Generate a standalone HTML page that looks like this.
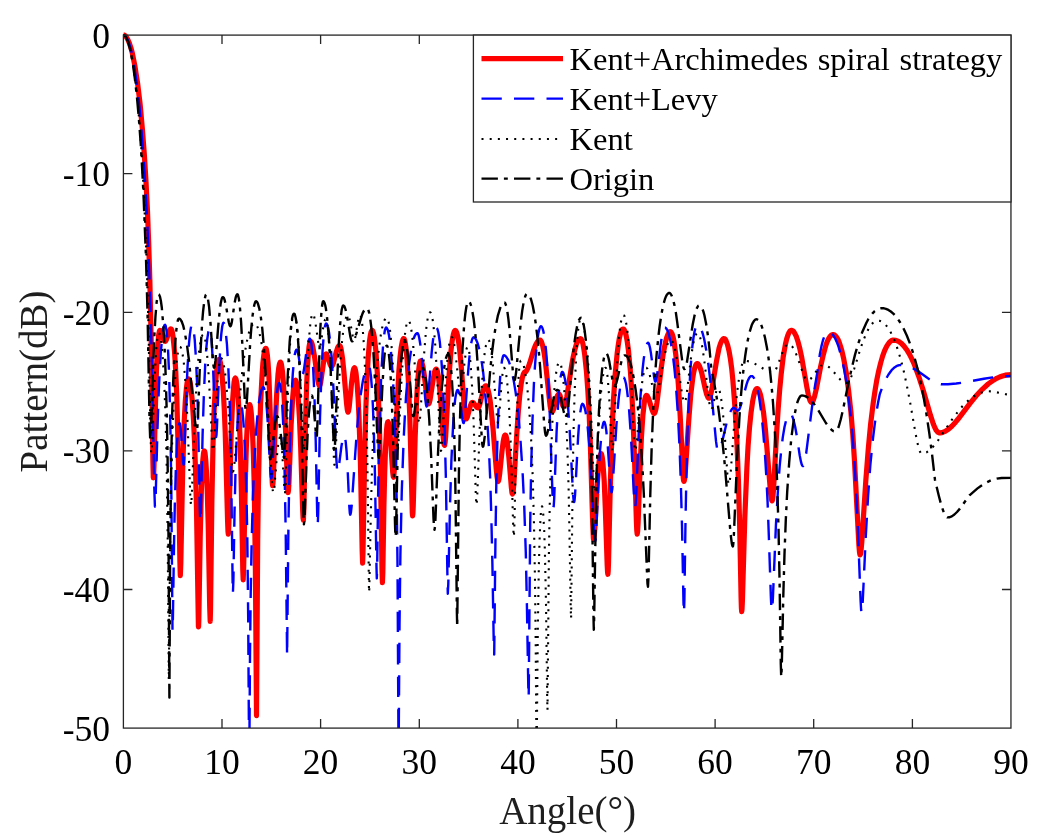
<!DOCTYPE html>
<html><head><meta charset="utf-8"><style>
html,body{margin:0;padding:0;background:#fff;width:1050px;height:840px;overflow:hidden}
svg{display:block}
text{font-family:"Liberation Serif",serif;fill:#000}
.tx{fill:#1e1e1e}
svg{will-change:transform}
</style></head><body>
<svg width="1050" height="840" viewBox="0 0 1050 840">

<rect width="1050" height="840" fill="#fff"/>

<g fill="none" stroke-linejoin="round">
<path d="M123.4 35.1L124.2 35.2 125.0 35.6 126.5 37.2 127.9 39.7 129.4 43.2 130.9 47.7 132.3 53.0 135.0 66.6 137.6 83.4 140.1 104.1 142.3 128.2 144.3 154.3 146.0 181.7 147.5 211.7 148.7 244.1 149.8 278.7 151.4 350.9 152.9 461.1 153.3 477.8 153.7 474.1 154.0 465.6 155.5 403.4 156.4 372.0 157.5 349.0 158.7 334.8 159.5 330.8 159.9 330.3 160.4 330.5 161.5 332.5 163.9 340.1 164.6 341.2 165.2 341.4 165.8 340.8 166.5 339.4 168.8 332.4 169.7 330.0 170.3 329.2 170.9 328.9 171.3 329.2 171.7 330.0 172.4 332.6 173.1 336.9 174.5 351.2 175.7 370.6 176.8 396.4 178.3 456.4 179.9 561.8 180.3 575.6 180.8 563.4 182.7 469.1 184.2 421.6 185.3 401.3 186.5 387.3 187.1 382.9 187.7 380.2 188.3 378.9 188.6 378.8 189.0 379.2 189.8 381.2 190.6 385.1 191.3 391.0 192.1 399.1 193.5 419.6 194.7 445.5 195.7 475.8 196.5 508.7 198.4 626.1 198.5 626.9 198.6 626.1 198.8 620.3 200.2 536.7 201.4 489.5 202.1 472.2 202.8 460.5 203.5 453.6 203.9 451.6 204.3 450.9 204.7 451.5 205.1 453.4 205.8 461.1 206.5 472.5 207.2 489.2 208.2 524.6 209.7 606.9 210.2 621.4 210.5 609.9 211.9 499.7 213.1 440.6 214.1 411.5 215.2 389.3 216.4 373.1 217.7 363.0 218.4 360.3 218.7 359.7 219.1 359.4 219.5 359.7 219.8 360.4 220.5 363.0 221.9 373.2 223.3 391.1 224.3 409.8 225.2 431.8 227.6 521.4 228.0 531.5 228.3 534.1 228.6 530.9 228.9 522.3 231.0 438.4 232.6 400.6 233.7 386.2 234.1 382.1 234.7 379.1 235.0 378.4 235.3 378.1 235.9 378.9 236.5 381.4 237.1 385.5 238.0 395.2 238.8 407.7 240.3 444.3 241.4 492.1 242.8 570.4 243.2 579.8 243.7 566.2 245.3 481.6 246.5 441.7 247.3 424.6 248.2 412.1 249.0 405.7 249.5 404.5 249.7 404.5 250.0 405.0 250.6 407.5 251.2 412.4 252.4 429.8 253.4 454.4 254.3 488.4 255.4 569.0 256.5 715.6 257.7 539.4 258.4 487.2 259.3 443.7 260.6 403.2 262.1 374.4 262.9 363.0 263.8 355.2 264.7 350.4 265.2 348.9 265.7 348.4 266.1 348.6 266.5 349.7 267.3 354.7 268.1 363.6 268.9 376.9 270.1 409.3 272.0 476.5 272.3 483.1 272.6 485.6 273.0 483.0 273.4 476.1 275.4 421.7 276.7 393.9 278.0 374.4 278.7 368.3 279.4 364.3 279.9 362.7 280.2 362.3 280.5 362.2 281.0 363.0 281.5 364.8 282.5 371.9 283.5 383.9 285.1 417.3 287.4 484.0 287.8 490.8 288.1 492.5 288.5 490.2 288.9 483.8 291.1 425.5 292.7 397.4 293.6 387.7 294.6 381.7 295.0 380.6 295.5 380.2 296.0 381.0 296.5 382.7 297.3 387.7 298.0 394.4 299.4 417.3 300.7 448.2 302.7 510.8 303.1 518.3 303.4 520.2 303.9 508.0 305.5 422.8 306.6 386.4 307.4 368.3 308.2 355.4 309.0 347.0 309.9 342.1 310.2 341.5 310.5 341.4 310.9 341.6 311.4 342.3 312.2 344.3 312.9 347.4 314.5 356.5 317.8 380.2 318.7 384.3 319.2 385.5 319.5 385.8 319.8 385.5 320.1 384.9 320.7 382.4 323.7 361.2 324.5 357.1 325.3 354.6 325.7 354.0 326.1 353.9 326.5 354.1 326.9 354.8 327.8 357.0 330.2 364.8 331.0 366.2 331.3 366.3 331.7 366.3 332.5 365.3 333.4 363.0 336.3 351.7 337.6 347.8 338.3 346.5 339.0 345.7 339.7 345.6 340.2 346.2 340.8 347.8 341.3 350.3 342.6 359.0 343.9 371.7 346.6 404.0 347.3 409.6 347.7 411.5 348.0 412.1 348.2 411.9 348.5 411.1 349.2 407.0 351.6 382.4 352.8 373.0 353.4 369.9 353.9 368.4 354.5 367.7 355.0 368.3 355.5 370.3 356.0 373.1 357.1 383.5 358.1 398.4 359.0 417.4 360.4 461.7 362.2 551.2 362.6 563.2 363.0 552.2 364.9 443.3 365.8 410.1 366.8 383.3 368.1 358.9 369.5 341.3 370.3 335.5 371.1 331.9 371.9 330.4 372.3 330.4 372.8 331.0 373.6 333.4 374.4 337.6 376.0 352.1 377.3 372.9 378.5 399.1 379.5 429.6 380.3 462.7 382.0 569.8 382.4 582.6 382.8 573.2 383.9 506.6 384.7 472.5 385.6 446.5 386.6 429.4 387.1 424.6 387.7 422.0 388.0 421.8 388.4 422.5 389.1 425.6 390.4 438.0 392.7 472.2 393.3 476.6 393.6 477.2 393.8 476.7 394.6 465.9 397.1 404.8 398.9 371.0 400.0 357.6 401.1 348.0 402.3 341.5 402.9 339.7 403.5 338.7 403.9 338.7 404.2 338.9 404.8 340.4 405.9 347.2 407.1 359.8 408.2 377.3 409.8 416.3 412.1 505.2 412.3 513.1 412.6 516.0 412.9 513.7 413.2 507.1 415.2 436.0 416.7 398.1 417.6 382.8 418.5 371.9 419.4 364.3 419.9 362.1 420.4 361.0 420.7 360.8 421.0 360.9 421.7 362.0 423.0 367.0 424.3 375.4 427.0 398.1 427.8 402.3 428.5 403.8 428.9 403.6 429.3 402.8 430.1 399.7 433.2 379.1 434.5 372.2 435.3 370.0 436.0 369.2 436.4 369.2 436.7 369.5 437.3 371.0 438.4 376.5 439.5 385.7 440.7 401.2 443.2 437.1 443.9 443.5 444.3 445.1 444.6 445.3 445.1 442.8 445.7 435.9 448.8 378.8 450.9 351.7 452.1 341.4 453.4 334.2 454.0 332.1 454.7 330.7 455.2 330.3 455.9 330.8 456.9 333.1 457.8 336.9 458.8 343.0 459.7 350.2 461.4 368.3 464.4 409.3 465.1 415.7 465.7 418.6 466.0 419.0 466.4 418.8 467.2 417.5 470.4 405.6 471.2 403.6 471.9 402.6 472.7 402.4 473.6 403.0 476.3 406.7 477.1 407.6 478.0 407.9 478.6 407.4 479.2 406.2 479.9 404.0 482.7 392.3 483.9 388.1 484.7 386.5 485.4 385.8 486.1 385.9 486.8 386.7 487.9 389.4 489.0 394.0 490.1 400.4 491.1 408.9 493.0 428.2 496.3 469.7 497.0 476.4 497.6 480.1 497.9 481.2 498.2 481.4 498.6 480.6 499.0 478.8 499.8 472.8 501.9 451.9 503.1 442.3 503.8 438.4 504.4 436.2 504.9 435.1 505.2 435.0 505.5 435.1 506.0 436.0 506.6 438.3 507.7 445.4 508.9 457.5 511.3 486.9 511.9 492.3 512.2 493.5 512.5 493.9 512.8 493.3 513.2 490.9 513.9 483.0 516.8 433.7 518.4 410.9 519.7 395.7 521.2 383.9 522.3 377.9 523.4 374.0 524.4 372.2 525.7 371.7 526.3 371.0 527.8 368.3 529.5 363.7 533.5 350.5 535.5 345.2 536.7 342.9 537.8 341.3 538.9 340.3 540.0 340.0 540.6 340.4 541.3 341.4 542.7 345.7 544.1 352.7 545.5 362.6 550.1 405.7 551.0 410.6 551.5 411.9 551.9 412.1 552.6 411.5 553.3 410.0 556.7 397.5 557.6 395.3 558.5 394.2 558.9 394.1 559.3 394.3 560.0 395.5 562.2 403.9 563.0 406.0 563.4 406.5 563.9 406.5 564.8 405.0 565.7 402.0 566.8 396.7 571.8 364.6 573.3 356.6 574.7 350.3 576.3 344.5 577.9 340.8 578.7 339.6 579.6 338.9 580.5 338.6 581.1 339.0 582.1 341.0 583.0 344.1 583.8 348.7 584.7 354.7 586.4 370.9 587.9 391.3 589.1 413.2 590.2 438.9 592.7 523.7 593.4 538.7 593.6 539.6 593.9 538.9 594.6 532.1 597.1 487.2 598.5 467.0 599.2 460.8 600.0 456.0 600.8 453.8 601.2 453.7 601.5 454.1 602.2 457.0 602.9 462.6 604.2 480.9 605.3 508.2 607.2 565.2 607.6 572.5 607.9 574.3 608.2 571.1 608.5 562.6 610.1 493.4 611.1 458.2 612.2 425.9 613.5 399.4 615.2 373.9 617.2 353.1 618.3 344.8 619.3 338.4 620.4 333.8 621.6 330.5 622.2 329.5 622.8 329.0 623.4 329.0 624.0 329.4 625.2 331.8 626.2 335.9 627.3 341.9 628.4 350.1 630.4 371.2 631.9 394.0 633.2 422.8 634.5 458.2 636.4 521.7 636.8 530.7 637.2 534.1 637.6 531.6 638.1 522.8 640.2 465.6 641.4 437.6 642.9 415.2 644.4 401.7 645.0 398.5 645.7 396.2 646.3 395.5 647.2 395.8 648.0 397.2 648.9 399.3 651.9 409.3 653.0 412.2 653.7 413.2 654.3 413.5 654.6 413.2 655.1 412.2 656.0 408.6 657.0 402.4 661.2 368.4 663.3 353.2 665.5 342.0 666.6 338.0 667.8 334.7 668.9 332.6 669.5 332.0 670.2 331.7 670.7 331.8 671.2 332.2 672.1 333.8 673.1 337.1 674.1 341.9 675.9 355.7 677.3 370.4 678.7 389.6 680.2 416.0 682.8 470.0 683.3 478.3 683.6 480.6 683.9 481.4 684.2 480.9 684.6 479.0 685.4 471.1 688.8 419.5 690.7 395.3 692.7 378.4 693.7 372.4 694.8 367.7 695.8 365.0 696.3 364.2 696.9 363.6 697.4 363.6 698.1 364.0 699.4 366.0 700.6 369.1 701.8 373.2 705.4 389.6 706.7 394.5 708.0 397.6 708.7 398.2 709.3 398.1 709.8 397.4 710.4 395.9 711.6 390.6 716.6 360.5 719.1 348.1 720.5 343.5 721.9 340.4 722.6 339.4 723.3 338.8 724.0 338.6 724.6 338.8 725.4 339.5 726.0 340.6 727.5 344.6 729.0 350.8 730.4 358.9 731.7 368.6 732.9 380.8 735.2 410.3 736.9 441.6 738.4 480.1 739.6 523.0 741.1 598.1 741.4 608.0 741.7 611.7 742.0 609.5 742.4 600.8 744.8 517.9 746.9 467.7 748.1 445.8 749.5 427.6 751.0 412.9 752.7 401.0 753.8 395.5 754.8 391.7 755.9 389.4 756.4 388.8 757.0 388.5 757.6 388.7 758.2 389.2 759.3 391.2 760.5 394.9 761.5 399.7 763.5 412.4 765.4 429.3 770.6 493.4 771.4 499.1 771.8 500.5 772.0 500.8 772.2 500.7 772.5 499.8 772.9 497.0 773.6 488.3 776.5 434.9 778.2 408.5 779.7 389.5 781.2 374.0 783.2 357.0 785.5 343.9 786.7 338.9 787.9 335.1 789.1 332.4 790.2 330.8 791.1 330.4 792.1 330.4 793.1 331.0 794.1 332.2 796.1 335.9 798.0 341.6 799.8 348.5 801.7 357.4 806.8 386.9 808.3 394.6 809.9 400.3 810.6 401.7 811.3 402.4 812.0 402.2 812.8 401.1 813.7 399.1 814.6 396.2 816.3 389.0 820.8 365.8 823.3 354.7 825.9 345.1 827.3 341.3 828.6 338.6 830.1 336.3 831.6 334.9 833.0 334.5 834.6 335.0 836.2 336.6 837.7 338.9 839.2 342.2 840.6 346.5 842.1 351.8 843.5 357.8 846.2 372.4 848.6 390.5 850.9 412.0 852.8 434.6 854.5 461.1 858.9 545.0 859.5 552.2 859.8 554.2 860.1 554.9 860.5 554.1 860.9 552.1 861.8 542.0 865.8 480.9 868.3 448.8 870.6 424.2 873.3 402.3 875.0 390.9 876.7 380.6 878.6 371.3 880.6 363.1 882.6 356.1 884.7 350.4 886.9 345.9 889.1 342.7 891.0 340.9 892.0 340.3 893.1 340.1 895.9 340.3 898.6 341.4 901.4 343.4 904.0 346.1 906.7 349.7 909.4 354.1 911.7 358.7 914.0 363.7 918.6 376.0 922.9 389.3 930.5 415.4 933.3 424.0 934.9 427.8 936.3 430.4 937.7 432.1 939.0 432.8 940.2 432.9 941.9 432.6 945.1 431.4 948.3 429.3 951.8 426.2 954.6 423.2 957.9 419.3 970.4 402.9 976.2 395.8 982.3 389.3 988.1 384.0 993.9 379.9 996.7 378.3 999.6 377.0 1002.5 376.0 1005.3 375.2 1008.2 374.8 1010.9 374.7" stroke="#ff0000" stroke-width="5.2"/>
<path d="M123.4 35.1L124.2 35.3 124.9 35.6 126.3 37.2 127.7 39.9 129.1 43.4 130.5 48.0 131.9 53.7 134.5 67.9 137.1 86.1 139.5 107.5 141.7 132.8 143.8 161.0 145.6 190.0 147.3 222.6 148.7 257.1 150.1 296.1 152.0 365.7 154.3 488.1 154.9 506.2 155.0 506.5 155.1 506.1 155.4 503.8 155.7 495.6 157.5 428.4 158.7 392.8 159.8 368.9 160.9 351.3 162.5 334.5 163.3 328.9 164.2 325.7 164.7 324.9 165.1 324.8 165.5 325.4 165.8 326.4 166.5 330.6 167.2 337.6 168.2 353.1 169.1 374.0 169.8 400.4 170.5 432.7 171.4 497.6 172.5 631.1 172.9 618.5 174.0 545.2 174.8 505.3 175.8 470.9 176.9 444.6 177.6 434.6 178.4 427.2 179.2 423.6 179.6 423.2 179.9 423.6 180.4 426.1 181.0 432.0 183.0 461.6 183.4 464.4 183.6 464.8 183.8 464.0 184.4 451.7 186.2 398.1 187.5 367.5 189.0 343.6 189.8 335.2 190.6 329.4 191.2 326.2 191.6 325.2 192.0 324.8 192.4 325.0 192.7 325.5 193.4 328.3 194.7 339.3 196.0 359.2 197.0 382.3 197.9 411.2 199.8 509.3 200.3 521.6 200.6 518.2 200.9 509.1 202.6 434.6 203.9 393.5 205.4 360.5 206.3 348.1 207.2 339.1 208.4 331.6 209.0 329.7 209.3 329.2 209.7 328.9 210.2 329.7 210.6 331.3 211.5 338.6 212.9 362.5 215.3 426.8 215.7 434.3 216.1 437.0 216.5 434.7 216.9 428.2 219.1 371.6 220.5 343.6 221.3 333.8 222.2 326.5 223.0 323.3 223.4 322.7 223.9 323.0 224.7 325.1 225.5 329.3 226.9 343.8 228.2 364.7 229.4 393.8 230.3 425.0 231.1 463.7 232.6 581.7 232.9 593.7 233.4 580.2 234.5 513.4 235.4 475.1 236.5 442.8 237.7 420.3 238.4 411.7 239.2 405.5 239.9 402.8 240.3 402.4 240.7 402.7 241.5 405.5 242.3 410.6 243.1 418.5 243.9 429.4 244.9 448.3 245.8 472.0 246.6 501.0 247.3 536.1 248.2 619.3 248.9 728.1M249.5 728.1L250.0 655.2 250.7 594.6 251.6 544.2 252.7 502.8 254.2 464.4 255.8 434.9 257.8 411.7 258.9 402.7 260.0 396.0 261.6 389.7 262.4 388.0 263.2 387.2 263.5 387.2 263.8 387.4 264.3 388.6 265.4 394.5 266.4 403.8 267.4 417.0 270.3 470.9 270.8 476.6 271.3 478.6 271.8 476.4 272.3 470.3 275.1 416.7 276.0 403.6 276.9 392.9 278.0 385.7 278.6 383.7 279.2 383.0 279.7 383.6 280.2 385.3 281.2 392.4 282.2 404.9 283.2 424.1 284.0 449.0 284.7 475.6 285.7 532.4 287.1 656.0 288.4 528.4 289.7 453.3 290.6 421.5 291.6 394.1 292.8 373.6 294.1 359.4 294.8 354.5 295.6 351.1 296.3 349.8 296.7 349.8 297.1 350.2 297.8 352.0 298.4 355.1 301.3 372.2 302.0 374.3 302.3 374.6 302.6 374.6 303.2 373.3 303.9 370.1 306.8 348.8 308.3 341.3 309.2 339.1 309.6 338.7 310.0 338.7 310.7 340.4 311.3 343.7 312.2 351.8 312.9 362.7 314.4 394.9 315.7 440.3 317.2 514.5 317.7 525.7 318.2 513.2 320.0 417.7 321.5 371.8 322.6 350.3 323.7 335.9 324.9 326.7 325.5 324.3 325.8 323.7 326.2 323.4 326.8 323.9 327.5 325.4 328.9 331.7 330.3 342.6 331.6 357.5 333.5 389.0 336.2 456.3 337.1 470.6 337.4 471.7 337.8 471.3 338.7 467.7 341.4 446.5 342.6 439.5 343.2 437.3 343.8 436.0 344.4 435.7 344.8 436.4 345.7 441.6 346.6 451.7 347.6 468.7 349.3 506.3 349.8 512.9 350.2 514.7 350.5 514.3 350.9 512.5 351.7 505.5 356.7 432.8 358.6 412.2 360.6 395.3 362.9 380.8 364.1 375.6 365.4 371.3 366.9 368.0 367.6 367.1 368.4 366.5 369.0 366.4 369.3 366.6 370.0 369.1 371.0 376.6 372.0 389.3 372.9 406.3 373.7 427.1 374.9 472.4 376.5 567.3 376.8 578.4 377.1 569.7 378.2 490.0 379.1 441.3 380.2 401.0 381.5 369.3 383.1 344.9 383.9 336.3 384.8 330.7 385.3 328.9 385.8 327.8 386.2 327.5 386.8 327.9 387.9 330.3 389.0 335.2 390.1 342.6 391.0 352.0 392.9 378.1 394.5 412.6 395.8 455.4 396.8 506.6 397.5 563.7 398.4 728.1M398.8 728.1L399.5 626.0 400.4 554.3 401.8 490.3 403.6 440.4 404.8 416.9 406.0 397.0 407.5 378.9 409.1 363.9 410.8 352.0 412.6 342.4 413.6 338.8 414.6 336.1 415.6 334.3 416.6 333.3 417.2 333.1 417.6 333.2 418.5 334.8 419.3 338.2 420.3 344.3 422.1 360.9 425.2 398.5 426.0 404.7 426.4 406.2 426.6 406.5 426.9 406.2 427.2 405.0 427.9 399.8 431.7 352.2 433.0 340.2 434.1 332.7 434.8 329.8 435.5 328.1 436.2 327.5 436.6 327.7 437.0 328.2 437.7 329.9 438.4 332.7 439.8 341.7 441.1 356.0 442.4 375.1 443.5 397.3 444.5 424.1 445.9 479.3 447.5 581.1 447.8 593.7 448.3 583.9 450.0 506.3 451.4 460.2 453.2 423.0 454.2 409.5 455.1 399.9 455.9 394.6 456.8 391.1 457.2 390.3 457.7 389.9 458.1 390.2 458.5 391.0 459.2 393.8 459.9 398.0 462.5 419.7 463.2 422.7 463.5 423.1 463.8 423.0 464.4 420.3 465.1 413.6 467.8 376.0 469.1 360.5 470.2 349.7 471.4 342.3 472.1 339.5 472.9 337.7 473.6 337.3 474.7 337.7 475.9 339.2 476.9 341.4 478.0 344.5 479.1 348.5 480.6 355.5 482.0 363.9 483.3 373.5 484.5 385.2 486.8 412.4 488.8 446.0 490.3 481.2 491.4 519.9 492.4 564.2 493.7 640.2 494.2 654.6 495.4 543.4 496.3 484.2 497.6 432.2 499.2 392.0 500.1 378.1 501.0 368.0 502.0 360.4 503.0 356.3 503.5 355.4 504.2 355.3 505.3 355.9 506.4 357.0 508.3 360.2 510.2 365.3 512.0 372.4 513.8 381.1 515.6 392.1 517.2 404.3 518.7 418.0 520.0 433.5 522.5 470.2 524.3 507.9 525.8 552.8 526.9 605.0 528.3 687.6 528.7 697.6 530.2 524.4 531.1 471.0 532.3 425.3 533.9 383.9 534.9 367.0 535.9 353.9 537.1 342.0 538.3 333.8 539.5 328.6 540.1 327.1 540.7 326.2 541.1 326.2 541.6 326.5 542.5 328.2 543.4 331.4 544.2 335.6 545.9 349.1 547.4 367.1 548.5 386.6 549.6 409.6 552.5 494.4 552.9 503.3 553.3 507.5 553.4 507.7 553.5 507.6 553.7 506.3 554.2 498.5 556.6 431.7 558.4 398.3 559.4 386.1 560.5 377.3 561.6 372.7 562.0 372.0 562.6 372.0 563.3 373.0 563.9 374.6 565.2 380.3 566.5 389.4 567.7 401.1 569.8 432.3 572.9 491.8 573.5 499.4 574.0 502.1 574.2 502.1 574.5 500.8 575.1 494.3 578.1 437.1 579.1 423.4 580.2 412.6 581.3 406.2 581.8 404.6 582.4 403.8 583.2 404.2 583.9 405.6 584.7 408.0 585.5 411.5 586.5 417.4 587.5 425.2 589.4 445.9 591.1 473.4 594.0 529.3 594.7 538.3 595.0 540.3 595.3 541.0 595.8 538.2 596.3 530.6 598.5 477.9 600.0 451.1 601.6 432.7 602.4 427.0 603.3 423.1 603.7 422.2 604.1 421.8 604.5 422.0 604.8 422.7 605.5 425.4 606.3 430.6 607.8 446.6 610.5 485.8 611.2 491.5 611.5 492.4 611.7 492.2 612.2 489.6 612.8 483.3 616.4 425.1 617.6 409.7 618.9 396.7 620.3 386.0 621.8 379.7 622.5 378.2 623.3 377.5 623.7 377.5 624.1 377.9 624.8 379.2 626.0 383.7 627.0 390.2 628.1 399.3 629.1 410.0 631.1 439.2 634.0 496.2 634.7 504.4 635.0 506.0 635.2 506.3 635.3 506.2 635.7 503.3 636.2 495.1 638.8 430.8 640.5 396.4 642.6 369.2 643.7 359.3 644.9 351.4 646.0 346.4 647.1 343.6 647.6 342.9 648.1 342.8 648.6 343.2 649.1 344.3 650.0 347.7 650.9 352.9 654.2 377.8 654.9 381.0 655.3 381.6 655.6 381.5 656.3 379.7 657.1 375.2 660.6 345.1 661.6 338.0 662.5 332.7 663.5 329.2 664.0 328.2 664.5 327.6 665.2 327.6 665.9 328.0 667.3 330.0 668.8 334.2 670.3 340.1 671.7 347.6 673.1 357.2 674.4 368.3 675.6 380.8 677.7 411.1 679.4 444.1 680.8 481.8 682.0 526.3 683.5 602.9 684.0 613.1 684.4 599.2 685.5 521.3 686.4 474.1 687.5 433.6 688.8 400.0 690.4 369.5 692.4 346.2 693.5 337.5 694.6 331.2 695.8 326.9 696.4 325.6 697.0 324.9 697.3 324.8 698.0 324.9 699.3 326.0 700.5 327.8 701.7 330.6 702.9 334.2 704.1 338.8 706.3 350.5 708.3 363.9 710.3 380.7 716.0 441.2 717.0 448.1 717.5 450.0 717.9 450.8 718.6 450.7 719.3 449.9 720.1 448.3 721.0 445.8 722.5 440.4 727.0 421.4 728.5 416.3 729.9 412.6 731.6 409.5 732.5 408.5 733.2 408.0 733.9 407.9 734.6 408.2 736.7 410.2 737.6 410.7 738.5 410.4 739.4 409.2 740.2 407.2 741.3 403.9 746.5 384.6 747.8 380.7 749.1 378.1 750.1 376.8 751.1 376.1 752.1 376.1 753.0 376.7 754.0 378.1 754.8 379.9 756.7 385.7 757.9 390.8 759.1 397.2 761.3 412.7 763.2 432.0 765.0 454.9 766.4 477.8 767.6 502.2 768.8 535.0 770.9 597.9 771.4 607.6 771.8 610.3 772.3 607.6 772.9 598.3 775.9 525.6 778.3 484.0 779.7 466.0 781.2 450.6 782.8 437.1 784.5 427.0 786.3 419.6 787.2 417.0 788.2 415.0 789.2 413.8 790.1 413.5 791.0 414.0 791.9 415.3 793.5 419.7 795.2 427.0 796.8 436.0 799.7 455.2 801.0 461.9 801.7 464.4 802.4 465.8 802.8 466.1 803.1 466.1 803.8 465.1 804.9 460.9 806.2 453.2 812.9 400.1 815.0 386.0 817.2 373.3 819.8 354.6 821.4 346.4 823.1 339.8 824.8 335.2 825.6 333.5 826.5 332.4 827.7 331.7 829.3 331.9 831.0 332.9 832.6 334.4 834.1 336.7 835.6 339.4 837.1 342.8 838.6 346.9 841.3 356.5 844.0 368.7 846.5 382.9 848.7 399.2 850.6 415.7 852.3 433.4 853.9 453.4 855.2 474.4 857.6 521.4 860.6 600.8 861.1 609.7 861.5 613.1 861.8 612.3 862.1 610.1 862.8 600.1 865.9 534.0 868.1 496.0 870.3 465.5 873.0 438.3 874.6 425.3 876.2 413.6 878.0 403.0 879.8 394.1 881.9 388.3 884.0 383.0 886.2 378.5 888.5 374.5 891.6 370.2 894.8 367.2 896.4 366.2 897.9 365.5 899.5 365.1 901.2 365.0 903.9 365.2 906.5 365.7 909.3 366.6 912.0 367.8 917.8 371.1 928.3 378.6 932.5 381.2 937.0 383.3 939.1 383.9 941.1 384.3 948.0 384.2 956.2 383.5 965.0 382.3 983.9 378.8 992.6 377.4 1002.0 376.4 1010.9 376.1" stroke="#0000ff" stroke-width="2.4" stroke-dasharray="20.3 12.2"/>
<path d="M123.4 35.1L124.7 35.6 125.9 36.9 127.1 39.3 128.3 42.4 130.7 51.3 133.0 63.5 135.2 79.7 137.3 98.5 139.3 120.6 141.2 146.1 142.7 171.9 144.2 200.7 146.7 263.3 148.4 323.2 150.6 437.6 151.2 452.9 151.8 449.5 152.3 441.5 154.2 390.1 155.3 365.9 156.2 350.1 157.2 339.7 157.9 335.4 158.6 333.3 158.9 333.1 159.3 333.3 160.1 335.2 160.9 339.1 161.6 344.2 162.9 359.9 164.1 380.5 165.1 404.8 166.0 435.0 166.7 467.2 167.7 539.1 168.8 679.6 170.3 526.3 171.2 476.8 172.3 436.5 173.8 400.0 175.5 373.5 176.5 363.0 177.4 355.3 178.4 350.2 178.9 348.6 179.5 347.4 179.9 347.0 180.3 347.0 181.0 347.9 181.8 350.2 182.5 353.5 183.9 363.7 185.2 379.5 186.4 398.4 187.5 420.8 190.3 495.8 190.7 502.5 191.1 505.0 191.4 502.5 191.9 493.6 194.5 422.4 196.6 381.5 197.8 365.2 199.0 352.0 200.4 342.3 201.8 336.5 202.5 335.1 203.3 334.5 203.9 334.9 204.5 336.3 205.7 342.5 206.9 352.4 208.0 365.3 209.1 382.1 212.1 441.2 212.5 447.8 213.0 450.8 213.2 450.8 213.5 449.6 214.1 443.0 217.0 389.6 217.9 377.1 218.9 367.0 219.8 360.7 220.3 358.9 220.8 358.1 221.4 358.2 222.1 359.1 223.4 363.1 224.3 367.7 225.2 373.9 226.8 390.1 228.5 412.7 231.5 461.4 232.2 468.9 232.6 471.2 232.9 471.7 233.3 471.2 233.8 469.1 234.6 461.9 240.1 393.5 242.1 372.9 244.2 356.7 246.6 342.6 247.9 336.8 249.1 332.0 250.4 328.4 251.7 325.8 253.0 324.1 253.7 323.6 254.4 323.4 255.1 323.5 255.6 323.9 256.9 325.6 258.2 328.7 259.4 332.9 260.6 338.3 261.8 345.1 264.0 362.5 265.8 380.9 267.4 401.5 269.0 426.9 271.7 478.0 272.3 486.4 272.9 491.5 273.2 492.4 273.4 492.4 273.6 492.1 274.4 487.3 276.9 456.3 278.1 445.0 279.2 438.9 279.7 437.5 280.2 437.0 280.6 437.6 281.0 439.3 281.8 446.1 284.2 485.8 284.7 491.1 285.1 492.5 285.4 489.5 285.7 481.4 287.6 404.6 289.2 360.5 290.2 342.0 291.1 328.9 292.2 319.4 293.3 314.5 293.9 313.7 294.2 313.7 294.6 314.2 295.3 316.0 295.9 318.5 297.1 326.9 298.2 339.7 299.3 356.0 300.3 375.2 303.0 441.2 303.5 448.9 303.9 450.9 304.3 448.4 304.8 439.2 306.7 383.5 308.1 353.1 309.6 331.2 310.3 324.2 311.1 318.5 311.8 315.3 312.4 313.8 312.8 313.7 313.2 314.0 314.0 315.8 315.4 322.6 318.3 342.9 319.0 345.9 319.4 346.7 319.6 347.0 319.9 346.7 320.2 346.1 320.9 343.1 323.3 326.8 324.4 321.4 325.0 319.8 325.6 319.2 326.2 319.8 326.6 321.3 327.5 326.0 328.4 333.7 330.1 357.6 331.6 391.1 333.7 453.9 334.0 461.8 334.4 464.8 334.7 464.0 335.0 461.6 335.6 453.1 338.4 394.4 340.2 364.3 342.1 340.8 343.1 332.2 344.2 325.0 345.2 320.2 346.3 316.8 346.8 315.8 347.4 315.2 347.9 315.1 348.3 315.5 349.1 317.4 349.9 320.6 352.9 337.1 353.6 339.4 354.0 339.9 354.3 340.0 354.9 339.0 355.5 336.2 357.7 322.6 358.6 318.1 359.6 315.4 360.1 315.1 360.5 315.4 361.3 317.7 362.0 321.7 363.4 337.4 364.7 360.5 365.8 390.0 366.7 425.0 367.4 463.3 369.0 592.3 369.3 588.5 369.5 578.4 370.9 511.1 371.9 472.4 373.0 439.8 374.2 412.5 375.9 383.5 377.7 360.0 379.8 341.6 380.9 334.4 382.1 328.1 383.3 323.5 384.4 320.3 385.7 318.3 386.3 317.9 386.9 317.9 387.7 318.9 388.5 321.4 389.3 325.3 390.1 330.8 391.4 344.4 392.7 362.2 394.1 387.5 396.5 440.0 397.1 448.5 397.6 450.9 398.0 448.6 398.6 440.5 401.2 385.6 402.9 357.2 404.7 336.8 405.5 329.9 406.5 324.6 407.2 322.2 407.9 320.9 408.2 320.7 408.6 320.7 409.3 321.4 410.0 323.2 410.7 326.0 412.1 334.6 413.2 345.6 414.4 359.8 418.0 414.6 418.7 421.2 419.0 422.7 419.2 423.2 419.5 422.6 419.8 420.9 420.5 413.2 423.6 360.5 425.7 334.0 426.7 324.5 427.9 317.3 429.0 313.6 429.6 312.6 430.2 312.3 430.9 313.0 431.5 314.5 432.8 320.5 433.9 329.7 435.1 342.9 437.2 377.2 440.0 440.8 440.5 448.2 440.9 450.9 441.2 450.3 441.5 448.5 442.2 440.4 445.0 390.8 446.7 366.8 448.3 350.3 449.2 344.4 450.1 340.3 451.1 337.8 451.6 337.3 452.1 337.4 452.6 338.0 453.1 339.2 454.1 343.2 455.8 355.9 459.1 388.4 459.9 393.6 460.3 395.0 460.6 395.4 460.9 395.3 461.2 394.5 461.9 390.4 464.5 362.5 465.9 351.8 466.7 348.3 467.4 347.0 467.8 347.0 468.1 347.4 468.8 349.4 469.7 355.3 470.6 364.0 472.3 390.2 473.8 427.2 475.8 494.5 476.2 502.9 476.4 505.0 476.8 502.6 477.3 494.0 479.8 426.4 481.6 390.1 482.6 375.3 483.6 362.5 484.7 352.9 485.9 345.7 487.2 341.2 487.9 340.2 488.3 340.0 488.6 340.1 489.3 341.1 489.9 342.9 491.0 348.8 492.1 357.1 493.3 369.4 496.8 415.2 497.5 421.1 498.0 423.1 498.3 422.9 498.5 422.2 499.1 417.4 501.3 386.6 502.5 374.1 503.1 370.2 503.7 368.1 504.0 367.8 504.3 367.8 504.9 368.9 506.1 374.0 507.3 383.5 508.4 396.7 509.4 413.0 511.1 453.1 513.2 526.5 513.6 534.8 513.9 536.8 514.4 524.8 516.4 429.1 517.3 401.9 518.3 381.2 519.3 367.4 519.8 363.7 520.4 361.3 520.7 360.8 521.1 360.9 522.1 361.8 523.1 363.9 524.0 366.8 525.4 373.5 526.6 382.2 527.8 392.7 529.0 406.1 531.1 438.7 532.8 478.8 534.0 525.3 535.0 580.8 535.7 643.1 536.3 728.1M536.9 728.1L537.8 630.6 538.8 568.5 539.5 542.3 540.2 524.7 540.9 512.3 541.3 508.7 541.8 506.5 542.0 506.3 542.2 506.5 542.6 508.1 543.4 515.9 544.2 530.8 544.9 551.1 546.0 603.0 547.2 698.7 547.5 710.1 548.9 554.4 549.7 506.6 550.8 462.8 552.2 425.8 553.9 396.4 554.7 385.4 555.7 376.0 556.7 369.3 557.8 364.5 558.3 363.2 558.9 362.4 559.4 362.2 560.0 362.7 561.1 365.5 562.1 371.0 563.2 379.2 564.2 389.6 566.0 416.7 567.4 448.5 568.6 487.9 569.4 529.4 570.7 608.1 571.1 618.6 572.7 477.5 573.5 433.6 574.5 396.1 575.7 365.5 577.1 340.8 577.9 332.0 578.8 325.0 579.6 321.1 580.0 320.0 580.5 319.3 581.0 319.3 581.5 319.7 582.5 321.5 583.4 324.7 584.3 328.8 586.1 341.1 587.8 358.3 589.1 375.9 590.3 396.4 591.5 424.2 593.7 479.3 594.3 489.5 594.8 492.5 595.3 490.4 595.9 483.0 598.7 425.8 600.5 398.5 601.5 387.4 602.5 379.0 603.5 373.0 604.6 369.0 605.0 368.1 605.5 367.8 605.9 367.9 606.2 368.6 607.0 372.2 607.7 377.8 609.2 397.6 611.7 444.1 612.2 450.1 612.5 450.9 612.8 450.0 613.7 437.5 616.6 373.6 618.4 345.5 619.5 332.4 620.7 323.2 622.0 317.2 622.6 315.8 623.3 315.1 624.0 315.4 624.7 316.6 625.4 318.8 626.0 321.9 627.4 331.1 628.7 343.6 629.9 359.0 631.0 376.6 634.1 441.1 634.6 447.8 635.1 450.8 635.3 450.9 635.5 450.6 635.9 449.1 636.8 442.3 640.1 402.5 641.8 384.9 643.4 374.5 644.2 371.1 645.1 368.7 645.8 367.8 646.6 367.9 647.4 368.7 648.2 370.3 649.9 375.6 652.9 388.2 654.1 392.5 655.2 395.0 655.8 395.5 656.4 395.2 656.9 394.5 657.5 393.0 658.7 388.3 663.6 360.0 666.2 348.3 667.6 344.1 668.9 341.3 669.6 340.5 670.3 340.1 671.0 340.1 671.6 340.4 672.5 341.6 673.5 343.8 674.5 347.1 675.5 351.2 677.6 363.5 682.3 395.7 683.5 401.0 684.1 402.2 684.4 402.4 684.7 402.3 685.2 401.5 685.7 399.7 686.7 394.0 690.7 359.8 693.0 344.7 694.2 339.2 695.4 335.5 696.5 333.6 697.1 333.1 697.6 333.1 698.3 333.6 698.9 334.5 700.1 337.4 701.3 341.8 702.6 348.5 704.8 364.6 708.8 399.3 709.7 405.2 710.5 408.4 710.9 409.1 711.4 409.3 711.8 408.7 712.3 407.6 713.2 404.4 715.8 393.0 716.6 390.5 717.3 389.1 718.1 388.5 718.5 388.7 718.8 389.2 719.6 391.0 720.4 394.2 721.8 402.9 723.1 414.7 724.6 432.8 727.4 474.4 728.2 481.9 728.6 483.7 728.9 484.2 729.3 483.5 729.7 481.7 730.6 473.9 734.5 420.0 737.0 393.4 738.3 383.1 739.7 374.3 741.0 367.8 742.4 363.5 743.4 361.7 744.4 360.9 746.6 360.9 749.1 361.4 751.7 362.3 754.4 363.5 763.5 368.8 767.0 370.5 770.7 371.7 772.8 371.9 773.9 371.8 774.6 371.3 775.3 370.5 776.8 367.6 782.1 353.4 784.1 348.6 786.0 345.7 787.0 344.8 787.9 344.3 789.4 344.3 790.9 345.2 792.4 346.8 794.0 349.4 795.5 352.5 797.1 356.4 803.5 374.5 805.2 378.1 806.0 379.2 806.8 379.9 807.6 380.2 808.5 380.1 809.5 379.7 810.5 379.0 812.5 376.7 817.2 369.9 819.3 367.3 820.5 366.2 821.7 365.4 822.9 365.0 824.1 365.0 825.6 365.3 827.1 365.9 828.7 366.9 830.3 368.2 833.1 371.2 839.3 378.6 841.9 381.2 844.4 382.6 845.6 382.9 846.7 382.9 847.8 382.3 849.0 381.0 850.3 378.8 851.6 375.9 854.1 369.1 860.0 350.2 862.9 341.6 866.2 333.5 869.3 327.5 871.1 324.9 872.8 323.0 874.6 321.6 876.2 320.9 877.9 320.6 879.9 320.9 881.9 321.7 883.7 323.0 885.8 325.0 887.9 327.6 889.9 330.9 892.0 334.8 894.0 339.2 896.0 344.2 899.8 356.1 903.4 369.6 906.8 385.3 910.0 401.8 915.5 433.2 917.5 443.0 918.5 447.4 919.6 450.8 920.6 452.8 921.6 453.6 924.2 453.3 926.8 452.2 929.6 450.2 932.5 447.3 935.1 444.3 938.1 440.3 951.6 420.2 958.6 410.8 962.4 406.3 966.2 402.4 969.9 399.1 973.6 396.5 977.2 394.3 980.9 392.8 984.5 391.8 988.2 391.3 990.9 391.4 993.8 391.7 1005.5 394.2 1008.3 394.6 1010.9 394.8" stroke="#000" stroke-width="2.1" stroke-dasharray="2 6.2"/>
<path d="M123.4 35.1L124.7 35.6 125.9 37.0 127.0 39.2 128.2 42.3 130.5 50.9 132.8 63.2 134.9 78.8 136.9 96.7 138.9 118.9 140.7 143.3 142.1 167.7 143.5 194.6 145.9 254.9 147.5 311.6 149.6 422.3 150.2 438.9 150.3 439.1 150.8 435.1 151.2 427.4 153.1 366.7 154.3 336.6 155.5 315.8 156.6 302.4 157.4 297.2 158.2 294.6 158.6 294.3 159.1 294.6 160.0 296.7 160.9 301.0 161.8 307.5 163.3 325.7 164.6 348.3 165.8 378.5 166.7 410.5 167.5 450.8 168.5 536.3 169.4 697.6 170.2 545.9 171.4 449.8 172.3 409.8 173.3 379.2 174.5 353.7 175.9 334.4 176.6 327.8 177.3 322.6 178.0 319.8 178.4 318.9 178.8 318.6 179.5 318.7 180.2 319.2 181.7 321.5 183.2 325.6 184.5 331.1 186.8 343.7 189.0 360.4 195.0 422.0 196.0 428.2 196.5 429.7 196.9 430.1 197.3 428.0 197.8 420.1 200.3 355.3 202.1 323.3 203.1 311.2 204.2 301.9 205.3 296.3 205.7 295.0 206.3 294.3 206.7 294.4 207.0 294.9 207.7 297.2 209.1 306.9 210.5 323.1 212.9 360.0 213.5 365.7 213.8 367.2 214.1 367.7 214.4 367.4 214.8 365.7 215.5 360.2 218.3 325.4 219.6 312.0 220.7 303.3 221.8 298.6 222.4 297.4 222.7 297.1 223.1 297.1 223.8 297.8 224.6 299.9 225.9 305.4 228.8 322.3 229.6 325.2 230.0 325.9 230.4 326.2 230.7 326.0 231.1 325.1 231.8 322.3 234.5 303.5 235.7 297.4 236.4 295.3 237.0 294.4 237.3 294.3 237.6 294.4 238.1 295.4 238.9 298.8 239.7 304.6 241.1 322.2 242.5 347.5 244.7 398.6 245.2 406.4 245.7 409.3 246.0 408.7 246.3 406.9 246.9 400.4 250.2 342.6 251.3 328.2 252.5 316.1 253.8 307.2 254.4 304.5 255.1 302.3 255.6 301.4 256.3 301.3 257.1 302.0 257.9 303.6 259.4 308.9 260.9 317.6 262.3 328.9 263.6 344.0 264.8 360.4 266.0 380.5 269.3 449.2 269.8 457.0 270.3 459.2 270.6 458.9 271.0 457.7 271.7 453.5 274.1 431.3 275.2 422.9 276.3 417.8 276.7 416.6 277.2 416.2 277.7 416.6 278.2 417.8 279.2 422.2 280.3 430.0 282.9 453.1 283.7 457.1 284.1 457.8 284.3 457.2 285.1 444.7 287.8 374.3 289.7 341.4 290.9 327.9 292.1 318.6 292.8 315.6 293.5 314.0 293.9 313.7 294.2 313.7 294.8 314.6 295.5 317.0 296.2 320.8 297.5 332.2 298.6 348.5 299.7 369.7 301.3 415.9 303.4 513.5 303.9 524.4 304.3 521.6 304.7 514.2 306.5 459.8 307.7 432.4 308.9 413.3 310.2 400.8 310.8 397.5 311.5 395.6 311.8 395.5 312.1 395.7 312.6 397.8 313.7 406.8 315.9 433.4 316.5 436.8 316.7 437.0 316.9 435.9 317.5 421.4 319.2 359.7 320.1 333.6 320.8 320.5 321.6 309.9 322.3 304.2 322.7 302.3 323.1 301.3 323.4 301.2 323.8 301.5 324.5 302.8 325.2 305.1 325.9 308.5 327.2 319.0 328.5 333.4 329.6 349.7 330.7 370.5 333.6 441.4 334.0 448.9 334.4 450.9 334.8 448.0 335.2 440.0 337.4 374.6 339.0 340.2 339.9 326.8 340.8 317.0 341.7 309.7 342.7 306.0 343.3 305.4 344.1 305.9 344.9 307.5 345.7 310.0 347.2 317.2 350.3 336.4 351.2 339.9 351.7 341.0 352.1 341.4 352.8 341.2 353.6 340.5 355.1 337.3 356.6 332.9 361.2 317.4 362.6 313.4 364.0 310.6 365.6 308.7 366.4 308.2 367.2 308.2 367.7 308.6 368.2 309.5 369.2 312.8 370.2 318.7 371.3 327.2 372.4 338.7 373.4 352.1 375.2 384.4 377.8 447.5 378.3 455.1 378.8 457.8 379.2 455.8 379.7 448.4 382.1 391.9 383.7 363.8 384.6 354.3 385.6 347.9 386.1 346.3 386.6 345.6 387.1 345.8 387.6 347.0 388.7 352.7 389.8 363.2 390.7 377.6 391.7 397.6 393.1 438.7 395.0 523.3 395.3 533.2 395.6 536.8 395.9 532.8 396.2 522.1 398.0 434.0 399.3 394.8 400.3 373.9 401.3 359.0 402.4 348.0 403.5 341.8 403.9 340.7 404.4 340.0 404.9 340.2 405.3 341.1 406.3 344.8 407.3 351.1 409.0 368.0 412.0 407.9 412.5 413.4 413.1 416.1 413.3 416.2 413.5 416.1 413.9 415.3 414.7 411.6 418.4 380.3 419.4 373.2 420.4 368.8 421.0 367.2 421.6 366.5 422.2 366.4 422.8 367.0 423.5 368.5 424.1 370.5 425.3 376.4 426.4 384.2 427.3 393.7 429.3 420.2 431.1 455.3 433.5 518.3 434.0 526.8 434.5 529.9 435.0 526.7 435.5 517.9 437.7 460.3 439.0 431.6 440.2 410.4 441.4 392.5 443.1 375.1 444.9 362.9 445.9 358.4 446.9 355.5 447.8 354.1 448.3 353.9 448.7 354.2 449.5 356.5 450.2 360.5 451.6 374.8 452.9 397.1 454.0 425.5 454.9 459.0 455.5 495.4 456.9 613.4 457.2 626.9 458.9 473.5 459.8 426.5 461.0 384.8 462.5 348.6 464.3 323.2 465.3 313.8 466.3 307.2 467.4 302.8 467.9 301.8 468.5 301.2 469.3 301.6 470.2 303.1 471.1 305.6 472.0 309.2 473.7 319.3 475.3 333.1 476.6 349.1 478.0 369.3 481.7 437.2 482.3 444.2 482.6 446.1 482.9 446.7 483.3 446.3 483.7 444.3 484.7 436.7 490.0 372.9 491.7 355.2 493.6 339.8 495.7 326.4 497.8 315.9 500.1 308.3 501.2 305.8 502.4 304.0 503.2 303.1 504.1 302.7 504.8 302.6 505.2 303.1 506.3 306.1 507.4 311.7 508.4 319.1 509.5 329.7 512.9 372.1 513.7 378.3 514.1 379.9 514.4 380.2 514.8 379.8 515.2 378.4 516.1 372.5 520.7 323.0 522.2 310.9 523.7 302.0 525.3 296.1 526.1 294.4 526.8 293.7 527.8 293.8 528.9 294.8 530.0 296.7 531.0 299.3 532.7 305.5 534.2 313.5 535.7 323.3 537.2 335.4 538.7 350.2 540.1 366.5 544.2 424.2 545.1 432.6 545.6 435.0 546.0 435.7 546.5 435.3 547.1 434.1 548.1 429.9 552.0 406.5 553.7 397.9 555.1 392.8 555.8 391.3 556.5 390.3 557.2 389.9 557.9 390.2 558.5 390.9 559.2 392.3 560.8 397.7 563.5 410.8 564.6 415.0 565.3 416.8 565.9 417.5 566.4 417.5 566.8 416.6 567.6 412.4 568.5 404.6 573.0 354.4 574.3 343.4 575.6 334.4 577.3 325.2 578.2 322.1 579.1 319.8 580.0 318.4 581.0 317.8 581.8 318.4 582.5 319.8 583.5 323.8 584.6 330.2 585.6 338.3 586.6 348.8 588.4 375.5 589.9 408.9 591.0 447.9 591.9 490.2 593.5 617.1 593.8 629.7 594.2 616.4 596.0 502.4 596.8 469.7 597.7 439.1 599.0 410.2 600.5 386.7 602.1 369.7 603.0 363.1 603.9 358.2 604.7 355.0 605.7 353.3 606.1 353.2 606.6 353.4 607.6 355.1 608.5 358.0 609.4 362.1 612.7 381.3 613.5 384.3 614.3 385.7 614.8 385.7 615.3 385.2 616.3 383.0 617.5 378.7 620.1 366.6 621.5 361.2 623.0 357.2 623.7 356.0 624.4 355.4 625.5 355.4 626.6 356.1 627.8 357.6 629.0 360.0 630.2 363.1 631.3 366.7 633.4 376.3 635.6 389.5 637.6 405.3 639.4 423.3 641.0 444.9 642.5 468.6 643.8 493.9 647.1 575.5 647.5 583.7 648.0 586.7 648.5 577.0 650.3 494.1 651.7 446.2 653.4 405.4 655.4 370.2 656.7 353.7 658.2 338.2 659.7 325.7 661.4 314.5 663.1 305.6 664.9 299.2 665.8 296.8 666.8 294.9 667.7 293.7 668.7 293.0 669.4 292.9 670.1 293.3 670.9 294.2 671.6 295.5 673.1 299.7 674.5 305.4 675.9 312.9 677.2 322.1 682.2 360.8 683.3 366.9 683.8 368.4 684.3 369.1 684.9 368.9 685.5 367.9 686.8 363.0 692.7 324.5 694.5 315.7 696.3 309.5 697.3 307.3 698.2 305.9 699.2 305.4 700.2 305.7 701.3 306.8 702.3 308.7 703.4 311.6 704.4 315.2 706.2 324.3 708.0 336.2 709.7 351.0 711.2 367.7 713.7 380.3 716.2 394.4 718.5 409.3 720.6 425.8 722.7 444.0 724.8 464.9 730.6 534.1 731.8 543.4 732.3 545.6 732.8 546.5 733.0 546.1 733.3 543.8 733.9 534.5 737.0 461.0 739.4 417.9 740.6 399.9 742.1 382.7 743.6 368.5 745.3 355.2 747.2 342.9 749.4 332.8 751.6 325.6 752.7 323.1 753.9 321.1 754.9 319.9 756.1 319.3 757.3 319.4 758.5 320.2 759.7 321.7 760.9 323.9 763.1 330.2 765.0 337.7 766.9 347.5 768.6 358.6 770.1 371.4 771.6 386.1 773.0 402.6 775.4 440.4 777.1 481.6 778.5 528.2 779.6 582.2 780.8 663.9 781.2 676.8 781.5 673.7 781.8 665.2 783.3 595.7 784.5 553.8 785.8 519.8 787.2 491.8 789.2 462.1 791.3 438.4 793.8 419.4 795.1 412.1 796.5 405.8 797.4 402.3 798.5 399.4 799.6 397.2 800.7 395.9 801.7 395.5 803.4 395.6 805.2 396.1 807.1 397.1 808.9 398.3 810.8 400.1 814.6 404.7 818.3 410.2 825.9 423.0 829.6 428.0 831.7 430.0 833.6 431.2 835.6 431.5 836.7 430.7 837.7 429.1 838.7 426.8 840.8 419.2 842.9 410.1 848.5 382.7 851.6 368.7 855.1 354.4 858.6 342.6 862.4 331.7 866.4 322.8 868.4 319.0 870.5 315.9 872.6 313.3 874.7 311.2 876.7 309.7 878.9 308.6 881.1 308.2 883.3 308.2 885.9 308.8 888.4 309.9 890.8 311.5 893.3 313.6 895.7 316.1 897.9 319.1 900.2 322.5 902.5 326.4 906.8 335.5 910.9 346.0 914.4 357.2 917.8 369.7 920.9 383.5 924.0 399.2 926.7 415.7 929.4 433.9 932.0 453.8 935.0 480.0 938.8 495.7 941.4 505.6 943.8 512.4 944.9 514.7 945.9 516.2 946.7 517.0 947.3 517.4 949.2 517.3 951.8 516.4 954.4 514.5 957.0 512.0 959.9 508.6 969.5 495.3 977.5 488.4 981.2 485.7 984.7 483.4 987.8 481.8 990.8 480.4 993.8 479.4 996.7 478.6 1001.7 478.0 1010.9 477.9" stroke="#000" stroke-width="2.4" stroke-dasharray="16.4 6 3.9 6.2"/>
</g>
<g stroke="#262626" stroke-width="1.3" fill="none">
<rect x="123.4" y="35.1" width="887.55" height="693"/>
<path d="M222.0 728.1v-9M320.6 728.1v-9M419.3 728.1v-9M517.9 728.1v-9M616.5 728.1v-9M715.1 728.1v-9M813.7 728.1v-9M912.4 728.1v-9
M222.0 35.1v9M320.6 35.1v9M419.3 35.1v9M517.9 35.1v9M616.5 35.1v9M715.1 35.1v9M813.7 35.1v9M912.4 35.1v9
M123.4 173.7h9M123.4 312.3h9M123.4 450.9h9M123.4 589.5h9
M1010.95 173.7h-9M1010.95 312.3h-9M1010.95 450.9h-9M1010.95 589.5h-9"/>
</g>

<g font-size="35.5" text-anchor="end" class="tx">
<text x="110" y="47.5">0</text>
<text x="110" y="186.1">-10</text>
<text x="110" y="324.7">-20</text>
<text x="110" y="463.3">-30</text>
<text x="110" y="601.9">-40</text>
<text x="110" y="740.5">-50</text>
</g>
<g font-size="35.5" text-anchor="middle" class="tx">
<text x="123.4" y="773.5">0</text>
<text x="222.0" y="773.5">10</text>
<text x="320.6" y="773.5">20</text>
<text x="419.3" y="773.5">30</text>
<text x="517.9" y="773.5">40</text>
<text x="616.5" y="773.5">50</text>
<text x="715.1" y="773.5">60</text>
<text x="813.7" y="773.5">70</text>
<text x="912.4" y="773.5">80</text>
<text x="1010.95" y="773.5">90</text>
</g>
<text x="567.6" y="824.2" font-size="39" text-anchor="middle" class="tx">Angle(°)</text>
<text transform="translate(47 381.5) rotate(-90)" font-size="39" text-anchor="middle" class="tx">Pattern(dB)</text>
<rect x="473.4" y="35.1" width="537.55" height="166.9" fill="#fff" stroke="#262626" stroke-width="1.3"/>
<g fill="none">
<path d="M481.5 58.6H563" stroke="#ff0000" stroke-width="5.2"/>
<path d="M481.5 98.6H563" stroke="#0000ff" stroke-width="2.4" stroke-dasharray="20.3 12.2"/>
<path d="M481.5 139H563" stroke="#000" stroke-width="2" stroke-dasharray="2 6.18"/>
<path d="M481.5 178.6H563" stroke="#000" stroke-width="2.4" stroke-dasharray="16.4 6 3.9 6.2"/>
</g>
<g font-size="32.5">
<text x="569.5" y="69.7" word-spacing="1.5">Kent+Archimedes spiral strategy</text>
<text x="569.5" y="109.7">Kent+Levy</text>
<text x="569.5" y="149.7">Kent</text>
<text x="569.5" y="189.7">Origin</text>
</g>
</svg>
</body></html>
